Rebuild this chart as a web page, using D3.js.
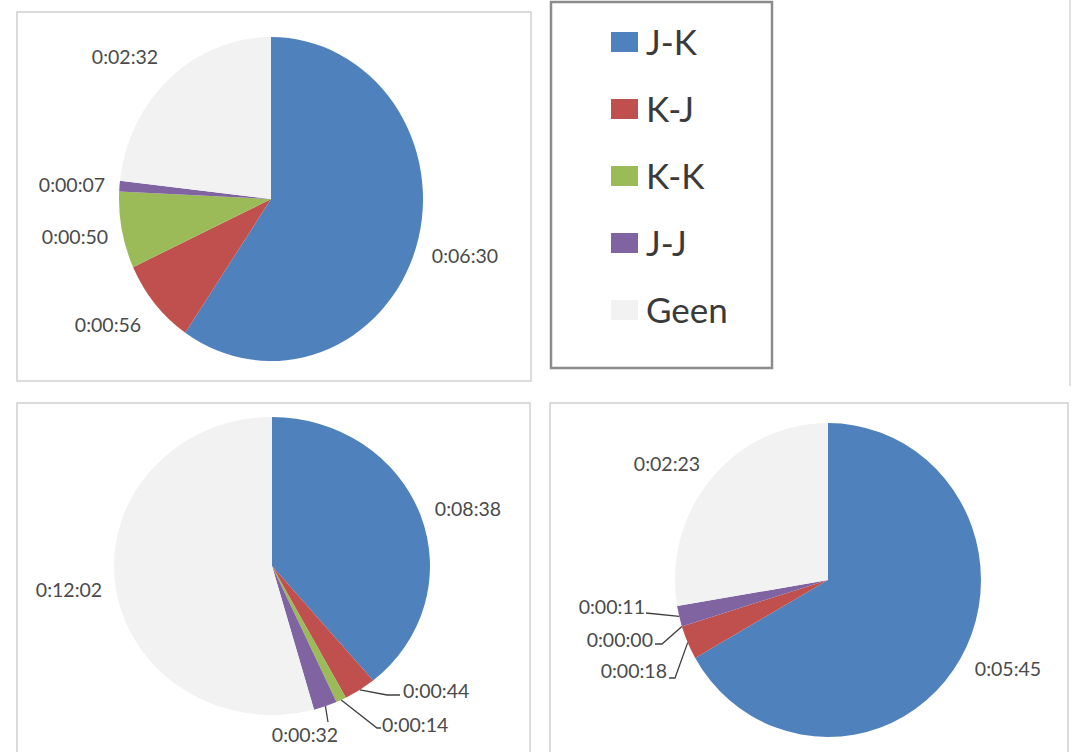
<!DOCTYPE html>
<html>
<head>
<meta charset="utf-8">
<script src="https://cdn.jsdelivr.net/npm/d3@7"></script>
<style>
  html, body { margin: 0; padding: 0; background: #fff; }
  svg { display: block; }
</style>
</head>
<body>
<svg id="chart" width="1076" height="752"></svg>
<script>
// Categories of interaction and the time spent in each, per session (h:mm:ss)
const categories = ["J-K", "K-J", "K-K", "J-J", "Geen"];
const durationsA = ["0:06:30", "0:00:56", "0:00:50", "0:00:07", "0:02:32"];
const durationsB = ["0:08:38", "0:00:44", "0:00:14", "0:00:32", "0:12:02"];
const durationsC = ["0:05:45", "0:00:18", "0:00:00", "0:00:11", "0:02:23"];

// Office palette for the slices
const sliceColors = ["#4f81bd", "#c0504d", "#9bbb59", "#8064a2", "#f2f2f2"];

const toSeconds = s => s.split(":").map(Number).reduce((acc, v) => acc * 60 + v, 0);
const color = d3.scaleOrdinal().domain(categories).range(sliceColors);

// Panel layout: frame, pie centre and radii, label offsets (from centre) and leader elbows
const panels = [
  {
    durations: durationsA, frame: [17, 12, 514, 369],
    cx: 271, cy: 199, rx: 152, ry: 162,
    labels: [[194, 57, "middle"], [-163, 126, "middle"], [-196, 38, "middle"], [-199, -14, "middle"], [-146, -142, "middle"]],
    leaders: [null, null, null, null, null]
  },
  {
    durations: durationsB, frame: [17, 403, 513, 360],
    cx: 272, cy: 566, rx: 158, ry: 149,
    labels: [[196, -57, "middle"], [131, 125, "start"], [110, 159, "start"], [33, 169, "middle"], [-203, 24, "middle"]],
    leaders: [null, [[115, 129], [128, 129]], [[105, 162], [109, 162]], [[56, 156]], null]
  },
  {
    durations: durationsC, frame: [550, 403, 518, 360],
    cx: 828, cy: 580, rx: 153, ry: 157,
    labels: [[180, 89, "middle"], [-161, 91, "end"], [-175, 60, "end"], [-183, 27, "end"], [-161, -116, "middle"]],
    leaders: [null, [[-153, 98], [-159, 98]], [[-166, 64], [-173, 64]], [[-182, 33]], null]
  }
];

const svg = d3.select("#chart");
svg.append("rect").attr("width", 1076).attr("height", 752).attr("fill", "#fff");

// Outer frame line on the right of the legend area
svg.append("line")
  .attr("x1", 1070).attr("x2", 1070).attr("y1", 0).attr("y2", 386)
  .attr("stroke", "#d4d4d4").attr("stroke-width", 1.5);

const pie = d3.pie().sort(null).value(d => d.seconds);

panels.forEach(p => {
  const data = categories.map((c, i) => ({ category: c, text: p.durations[i], seconds: toSeconds(p.durations[i]) }));
  const arcs = pie(data);

  const g = svg.append("g");
  g.append("rect")
    .attr("x", p.frame[0]).attr("y", p.frame[1])
    .attr("width", p.frame[2]).attr("height", p.frame[3])
    .attr("fill", "#fff").attr("stroke", "#d0d0d0").attr("stroke-width", 1.5);

  const arc = d3.arc().innerRadius(0).outerRadius(p.ry);
  g.append("g")
    .attr("transform", `translate(${p.cx},${p.cy}) scale(${p.rx / p.ry},1)`)
    .selectAll("path")
    .data(arcs)
    .join("path")
    .attr("d", arc)
    .attr("fill", d => color(d.data.category));

  arcs.forEach((a, i) => {
    const mid = (a.startAngle + a.endAngle) / 2;
    const edge = [p.cx + p.rx * Math.sin(mid), p.cy - p.ry * Math.cos(mid)];
    const lead = p.leaders[i];
    if (lead) {
      const pts = [edge].concat(lead.map(o => [p.cx + o[0], p.cy + o[1]]));
      g.append("path")
        .attr("d", d3.line()(pts))
        .attr("fill", "none")
        .attr("stroke", "#404040")
        .attr("stroke-width", 1.3);
    }
    const lb = p.labels[i];
    g.append("text")
      .attr("x", p.cx + lb[0])
      .attr("y", p.cy + lb[1])
      .attr("dy", "0.36em")
      .attr("text-anchor", lb[2])
      .attr("font-family", "Lato, 'Open Sans', sans-serif")
      .attr("font-size", 19.5)
      .attr("fill", "#4a4a4a")
      .text(a.data.text);
  });
});

// Legend
const legend = svg.append("g");
legend.append("rect")
  .attr("x", 551).attr("y", 2).attr("width", 221).attr("height", 366)
  .attr("fill", "#fff").attr("stroke", "#8c8c8c").attr("stroke-width", 2.5);

const rowY = d3.scalePoint().domain(categories).range([42, 310]);
const items = legend.selectAll("g.item")
  .data(categories)
  .join("g")
  .attr("class", "item")
  .attr("transform", d => `translate(0,${rowY(d)})`);

items.append("rect")
  .attr("x", 611).attr("y", -10).attr("width", 27).attr("height", 20)
  .attr("fill", d => color(d));

items.append("text")
  .attr("x", 646).attr("y", 0).attr("dy", "0.36em")
  .attr("font-family", "Lato, 'Open Sans', sans-serif")
  .attr("font-size", 35)
  .attr("fill", "#3a3a3a")
  .text(d => d);
</script>
</body>
</html>
